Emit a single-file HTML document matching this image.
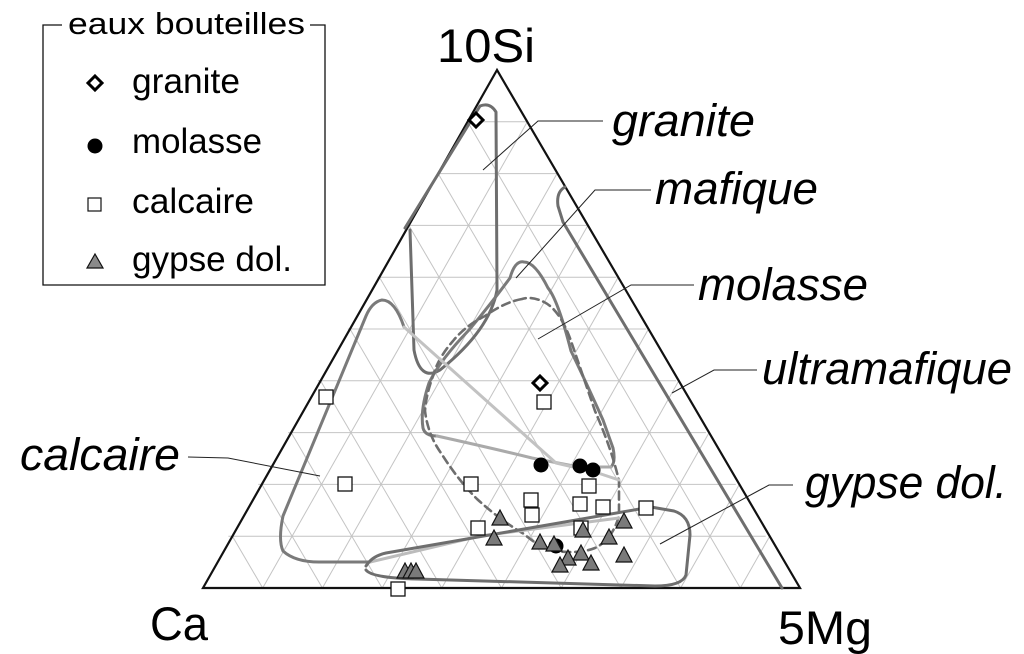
<!DOCTYPE html>
<html><head><meta charset="utf-8"><style>html,body{margin:0;padding:0;background:#fff}svg{display:block}</style></head>
<body>
<svg width="1024" height="654" viewBox="0 0 1024 654" xmlns="http://www.w3.org/2000/svg" font-family="Liberation Sans, Arial, sans-serif">
<rect width="1024" height="654" fill="#fff"/>
<g stroke="#c4c4c4" stroke-width="1" fill="none">
<line x1="467.2" y1="121.8" x2="526.9" y2="121.8"/><line x1="437.3" y1="173.6" x2="556.7" y2="173.6"/><line x1="407.5" y1="225.4" x2="586.6" y2="225.4"/><line x1="377.6" y1="277.2" x2="616.4" y2="277.2"/><line x1="347.8" y1="329" x2="646.3" y2="329"/><line x1="317.9" y1="380.8" x2="676.1" y2="380.8"/><line x1="288.1" y1="432.6" x2="705.9" y2="432.6"/><line x1="258.2" y1="484.4" x2="735.8" y2="484.4"/><line x1="228.4" y1="536.2" x2="765.7" y2="536.2"/>
<line x1="262.7" y1="588" x2="527.3" y2="121.8"/><line x1="322.4" y1="588" x2="557" y2="173.6"/><line x1="382.1" y1="588" x2="587.9" y2="225.4"/><line x1="441.8" y1="588" x2="618.2" y2="277.2"/><line x1="501.5" y1="588" x2="648.5" y2="329"/><line x1="561.2" y1="588" x2="678.8" y2="380.8"/><line x1="620.9" y1="588" x2="709.1" y2="432.6"/><line x1="680.6" y1="588" x2="739.4" y2="484.4"/><line x1="740.3" y1="588" x2="769.7" y2="536.2"/>
<line x1="262.7" y1="588" x2="232.4" y2="536.2"/><line x1="322.4" y1="588" x2="261.8" y2="484.4"/><line x1="382.1" y1="588" x2="291.2" y2="432.6"/><line x1="441.8" y1="588" x2="320.6" y2="380.8"/><line x1="501.5" y1="588" x2="350" y2="329"/><line x1="561.2" y1="588" x2="379.4" y2="277.2"/><line x1="620.9" y1="588" x2="408.8" y2="225.4"/><line x1="680.6" y1="588" x2="438.2" y2="173.6"/><line x1="740.3" y1="588" x2="467.6" y2="121.8"/>
</g>
<polygon points="497,70 203,588 800,588" fill="none" stroke="#111" stroke-width="2.2"/>
<g fill="none" stroke-linecap="round" stroke-linejoin="round">
<path d="M405,228 L480,106 Q490,102 496,112 L497,290 Q490,330 440,370 Q420,382 414,350 L410,230" stroke="#6e6e6e" stroke-width="3"/>
<path d="M565,187 Q556,192 558,206 L563,222 L782,588" stroke="#6e6e6e" stroke-width="3"/>
<path d="M611,467 Q616,462 613,448 L603,420 Q585,380 571,351 Q558,300 548,288 Q535,262 524,262 Q515,260 510,278 Q490,305 469,330 Q440,360 429,383 Q420,410 423,428 Q425,436 437,436" stroke="#7a7a7a" stroke-width="3"/>
<path d="M437,436 Q500,450 532,458 L579,467 L611,467" stroke="#aaaaaa" stroke-width="3"/>
<path d="M522,299 Q505,302 485,316 Q465,326 453,341 Q438,358 433,376 Q426,395 425,411 Q428,435 441,453 Q458,480 477,499 Q500,520 524,534 Q540,548 556,551 Q580,554 595,548 Q612,540 619,516 L619,481 Q612,450 595,411 L571,341 Q560,310 544,302 Q532,296 522,299" stroke="#6e6e6e" stroke-width="2.6" stroke-dasharray="8,5"/>
<path d="M404,327 Q395,300 382,300 Q372,302 366,316 L283,516 Q278,540 283,551 Q295,562 319,562 L370,562" stroke="#7a7a7a" stroke-width="3"/>
<path d="M404,327 L480,395 L556,463 L595,472 L619,480" stroke="#c2c2c2" stroke-width="3"/>
<path d="M370,562 L480,536 L619,518" stroke="#bcbcbc" stroke-width="3"/>
<path d="M366,566 Q372,556 386,553 L651,507 L674,511 Q690,516 690,535 L686,575 Q682,586 655,586 L417,579 Q372,578 366,570" stroke="#6e6e6e" stroke-width="3"/>
</g>
<g stroke="#222" stroke-width="1" fill="none">
<polyline points="603,121 538,121 483,170"/>
<polyline points="651,190 595,190 516,278"/>
<polyline points="694,285 631,285 538,339"/>
<polyline points="757,370 714,370 672,393"/>
<polyline points="793,485 769,485 660,544"/>
<polyline points="188,457 228,458 320,476"/>
</g>
<g stroke="#111" stroke-width="1.3" fill="#fff">
<rect x="319" y="390" width="14" height="14"/><rect x="537" y="395" width="14" height="14"/><rect x="338" y="477" width="14" height="14"/><rect x="464" y="477" width="14" height="14"/><rect x="582" y="479" width="14" height="14"/><rect x="524" y="493" width="14" height="14"/><rect x="525" y="508" width="14" height="14"/><rect x="573" y="497" width="14" height="14"/><rect x="596" y="500" width="14" height="14"/><rect x="639" y="501" width="14" height="14"/><rect x="471" y="521" width="14" height="14"/><rect x="574" y="521" width="14" height="14"/><rect x="391" y="582" width="14" height="14"/>
</g>
<g fill="#000">
<circle cx="541" cy="465" r="7.5"/><circle cx="580" cy="466" r="7.5"/><circle cx="593" cy="470" r="7.5"/><circle cx="556" cy="546" r="7.5"/>
</g>
<g stroke="#000" stroke-width="3" fill="#fff">
<polygon points="476,113 483,120 476,127 469,120"/>
<polygon points="540,376 547,383 540,390 533,383"/>
</g>
<g fill="#7a7a7a" stroke="#111" stroke-width="1.2">
<polygon points="500,510 508,525 492,525"/><polygon points="494,530 502,545 486,545"/><polygon points="540,534 548,549 532,549"/><polygon points="554,536 562,551 546,551"/><polygon points="583,522 591,537 575,537"/><polygon points="624,513 632,528 616,528"/><polygon points="609,529 617,544 601,544"/><polygon points="581,545 589,560 573,560"/><polygon points="568,550 576,565 560,565"/><polygon points="560,557 568,572 552,572"/><polygon points="591,555 599,570 583,570"/><polygon points="624,547 632,562 616,562"/><polygon points="405,563 413,578 397,578"/><polygon points="411,563 419,578 403,578"/><polygon points="416,563 424,578 408,578"/>
</g>
<g font-style="italic" font-size="45" fill="#000">
<text x="612" y="136" textLength="143" lengthAdjust="spacingAndGlyphs">granite</text>
<text x="655" y="204" textLength="163" lengthAdjust="spacingAndGlyphs">mafique</text>
<text x="698" y="300" textLength="170" lengthAdjust="spacingAndGlyphs">molasse</text>
<text x="762" y="384" textLength="250" lengthAdjust="spacingAndGlyphs">ultramafique</text>
<text x="805" y="498" textLength="202" lengthAdjust="spacingAndGlyphs">gypse dol.</text>
<text x="20" y="470" textLength="160" lengthAdjust="spacingAndGlyphs">calcaire</text>
</g>
<g font-size="47" fill="#000">
<text x="437" y="62" textLength="98" lengthAdjust="spacingAndGlyphs">10Si</text>
<text x="150" y="640" textLength="58" lengthAdjust="spacingAndGlyphs">Ca</text>
<text x="778" y="644" textLength="94" lengthAdjust="spacingAndGlyphs">5Mg</text>
</g>
<polyline points="62,25 43,25 43,285 325,285 325,25 310,25" fill="none" stroke="#111" stroke-width="1.3"/>
<text x="68" y="34" font-size="31" textLength="237" lengthAdjust="spacingAndGlyphs">eaux bouteilles</text>
<g font-size="35">
<text x="132" y="93" textLength="108" lengthAdjust="spacingAndGlyphs">granite</text>
<text x="132" y="153" textLength="130" lengthAdjust="spacingAndGlyphs">molasse</text>
<text x="132" y="213" textLength="122" lengthAdjust="spacingAndGlyphs">calcaire</text>
<text x="132" y="271" textLength="160" lengthAdjust="spacingAndGlyphs">gypse dol.</text>
</g>
<polygon points="95,76 102,83 95,90 88,83" fill="#fff" stroke="#000" stroke-width="3"/>
<circle cx="95" cy="146" r="7.5" fill="#000"/>
<rect x="88" y="198" width="13" height="13" fill="#fff" stroke="#111" stroke-width="1.2"/>
<polygon points="95,254 103,268 87,268" fill="#8a8a8a" stroke="#111" stroke-width="1.2"/>
</svg>
</body></html>
